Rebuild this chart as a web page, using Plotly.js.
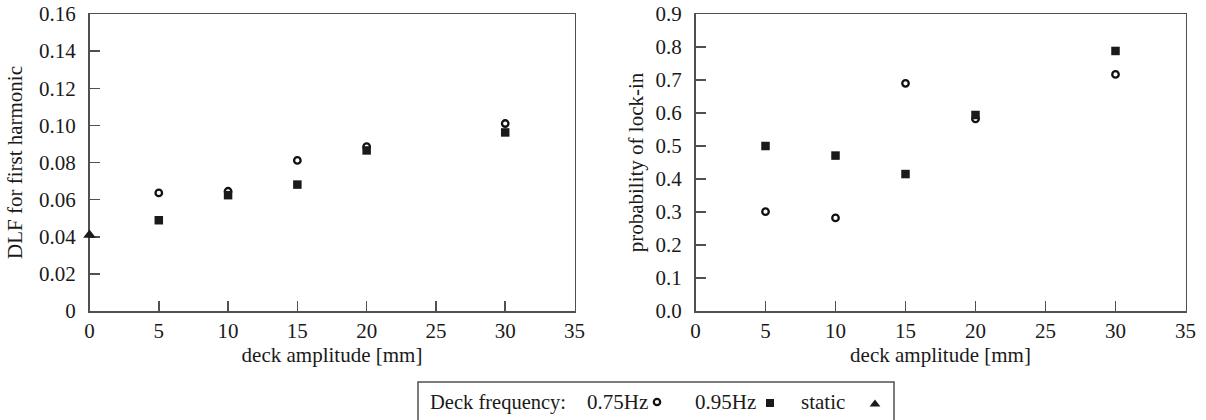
<!DOCTYPE html>
<html>
<head>
<meta charset="utf-8">
<script src="https://cdn.plot.ly/plotly-3.0.1.min.js"></script>
<style>html,body{margin:0;padding:0;background:#fff;}#chart{width:1206px;height:420px;}</style>
</head>
<body>
<div id="chart"></div>
<script>
// ---- data ----
const amplitudes = [5, 10, 15, 20, 30];            // deck amplitude [mm]
const dlf075 = [0.0636, 0.0645, 0.0811, 0.0885, 0.101];
const dlf095 = [0.0489, 0.0624, 0.0681, 0.0865, 0.0962];
const staticAmplitude = [0];
const dlfStatic = [0.041];
const lock075 = [0.301, 0.282, 0.690, 0.582, 0.717];
const lock095 = [0.500, 0.471, 0.415, 0.594, 0.788];

const xTickVals = [0, 5, 10, 15, 20, 25, 30, 35];
const dlfTickVals = [0, 0.02, 0.04, 0.06, 0.08, 0.10, 0.12, 0.14, 0.16];
const dlfTickText = ['0', '0.02', '0.04', '0.06', '0.08', '0.10', '0.12', '0.14', '0.16'];
const lockTickVals = [0, 0.1, 0.2, 0.3, 0.4, 0.5, 0.6, 0.7, 0.8, 0.9];
const lockTickText = ['0.0', '0.1', '0.2', '0.3', '0.4', '0.5', '0.6', '0.7', '0.8', '0.9'];

const seriesNames = ['0.75Hz', '0.95Hz', 'static'];
const legendTitle = 'Deck frequency:';

// ---- styling ----
const W = 1206, H = 420, MT = 14, MB = 109;
const PH = H - MT - MB;
const FONT = '"Liberation Serif", "Times New Roman", Times, serif';
const AX = '#505050';
const INK = '#1a1a1a';
const px = v => v / W;
const py = v => 1 - (v - MT) / PH;

const circleMarker = {symbol: 'circle-open', size: 6.5, color: '#111', line: {width: 2.3, color: '#111'}};
const squareMarker = {symbol: 'square', size: 8.5, color: INK};
const triMarker = {symbol: 'triangle-up', size: 11, color: INK};

const traces = [
  {x: amplitudes, y: dlf075, name: seriesNames[0], type: 'scatter', mode: 'markers', marker: circleMarker, xaxis: 'x', yaxis: 'y', cliponaxis: false},
  {x: amplitudes, y: dlf095, name: seriesNames[1], type: 'scatter', mode: 'markers', marker: squareMarker, xaxis: 'x', yaxis: 'y', cliponaxis: false},
  {x: staticAmplitude, y: dlfStatic, name: seriesNames[2], type: 'scatter', mode: 'markers', marker: triMarker, xaxis: 'x', yaxis: 'y', cliponaxis: false},
  {x: amplitudes, y: lock075, name: seriesNames[0], type: 'scatter', mode: 'markers', marker: circleMarker, xaxis: 'x2', yaxis: 'y2', cliponaxis: false},
  {x: amplitudes, y: lock095, name: seriesNames[1], type: 'scatter', mode: 'markers', marker: squareMarker, xaxis: 'x2', yaxis: 'y2', cliponaxis: false}
];

function axisBase() {
  return {
    showline: true, linecolor: AX, linewidth: 1.5, mirror: true,
    ticks: 'inside', ticklen: 10, tickwidth: 1.5, tickcolor: AX,
    showgrid: false, zeroline: false, fixedrange: true, layer: 'below traces',
    tickfont: {family: FONT, size: 21, color: INK}
  };
}

function xTitle() {
  return {text: 'deck amplitude [mm]', standoff: 0, font: {family: FONT, size: 21, color: INK}};
}

const layout = {
  width: W, height: H,
  margin: {l: 0, r: 0, t: MT, b: MB, pad: 0},
  paper_bgcolor: '#fff', plot_bgcolor: '#fff',
  showlegend: false,
  font: {family: FONT, size: 21, color: INK},
  xaxis: Object.assign(axisBase(), {domain: [px(89.5), px(574.5)], range: [0, 35], tickvals: xTickVals, anchor: 'y', title: xTitle()}),
  yaxis: Object.assign(axisBase(), {domain: [0, 1], range: [0, 0.16], tickvals: dlfTickVals, ticktext: dlfTickText, anchor: 'x',
    ticklabelstandoff: 8,
    title: {text: 'DLF for first harmonic', standoff: 10, font: {family: FONT, size: 21, color: INK}}}),
  xaxis2: Object.assign(axisBase(), {domain: [px(695.5), px(1185.5)], range: [0, 35], tickvals: xTickVals, anchor: 'y2', title: xTitle()}),
  yaxis2: Object.assign(axisBase(), {domain: [0, 1], range: [0, 0.9], tickvals: lockTickVals, ticktext: lockTickText, anchor: 'x2',
    ticklabelstandoff: 8,
    title: {text: 'probability of lock-in', standoff: 6, font: {family: FONT, size: 21, color: INK}}}),
  shapes: [
    {type: 'rect', xref: 'paper', yref: 'paper', x0: px(418), x1: px(894), y0: py(382), y1: py(424), line: {color: AX, width: 1.5}, fillcolor: 'rgba(0,0,0,0)'},
    {type: 'circle', xref: 'paper', yref: 'paper', xsizemode: 'pixel', ysizemode: 'pixel', xanchor: px(657), yanchor: py(402), x0: -3.2, x1: 3.2, y0: -3.2, y1: 3.2, line: {color: '#111', width: 2.2}, fillcolor: 'rgba(0,0,0,0)'},
    {type: 'rect', xref: 'paper', yref: 'paper', xsizemode: 'pixel', ysizemode: 'pixel', xanchor: px(770), yanchor: py(403), x0: -4, x1: 4, y0: -4, y1: 4, line: {width: 0}, fillcolor: INK},
    {type: 'path', xref: 'paper', yref: 'paper', xsizemode: 'pixel', ysizemode: 'pixel', xanchor: px(875), yanchor: py(404), path: 'M-5.4,-2.6 L5.4,-2.6 L0,4.4 Z', line: {width: 0}, fillcolor: INK}
  ],
  annotations: [
    {text: legendTitle, xref: 'paper', yref: 'paper', x: px(428), y: py(402), xanchor: 'left', yanchor: 'middle', showarrow: false, font: {family: FONT, size: 20.5, color: INK}},
    {text: seriesNames[0], xref: 'paper', yref: 'paper', x: px(585), y: py(402), xanchor: 'left', yanchor: 'middle', showarrow: false, font: {family: FONT, size: 21, color: INK}},
    {text: seriesNames[1], xref: 'paper', yref: 'paper', x: px(693), y: py(402), xanchor: 'left', yanchor: 'middle', showarrow: false, font: {family: FONT, size: 21, color: INK}},
    {text: seriesNames[2], xref: 'paper', yref: 'paper', x: px(799), y: py(402), xanchor: 'left', yanchor: 'middle', showarrow: false, font: {family: FONT, size: 21, color: INK}}
  ]
};

Plotly.newPlot('chart', traces, layout, {staticPlot: true, displayModeBar: false});
</script>
</body>
</html>
